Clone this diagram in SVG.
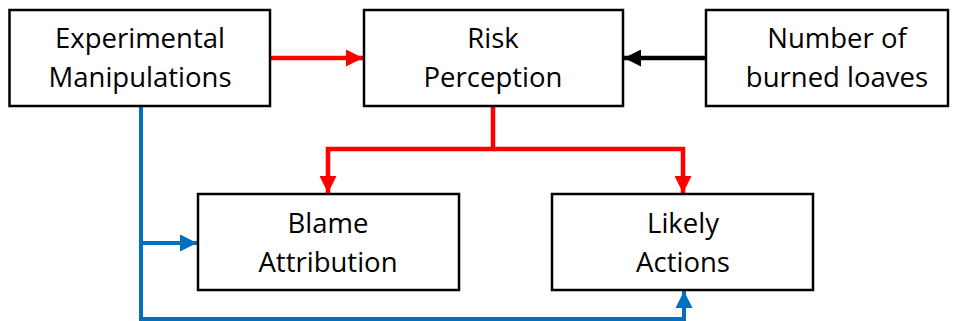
<svg xmlns="http://www.w3.org/2000/svg" width="956" height="321" viewBox="0 0 956 321">
<style>
.box{fill:#fff;stroke:#000;stroke-width:2.5}
.lbl{font-family:"Open Sans","Noto Sans",sans-serif;font-size:27.5px;fill:#000;text-anchor:middle}
.red{fill:none;stroke:#ff0000;stroke-width:4.5}
.blue{fill:none;stroke:#0070c0;stroke-width:4}
.blk{fill:none;stroke:#000;stroke-width:4.5}
</style>
<defs>
<marker id="ar" markerUnits="userSpaceOnUse" markerWidth="17" markerHeight="17" refX="17" refY="8.5" orient="auto"><path d="M0,0 L17,8.5 L0,17 Z" fill="#ff0000"/></marker>
<marker id="ab" markerUnits="userSpaceOnUse" markerWidth="17" markerHeight="17" refX="17" refY="8.5" orient="auto"><path d="M0,0 L17,8.5 L0,17 Z" fill="#0070c0"/></marker>
<marker id="ak" markerUnits="userSpaceOnUse" markerWidth="17" markerHeight="17" refX="17" refY="8.5" orient="auto"><path d="M0,0 L17,8.5 L0,17 Z" fill="#000"/></marker>
</defs>
<rect width="956" height="321" fill="#fff"/>
<g id="connectors">
<line class="red" x1="270" y1="58" x2="363" y2="58" marker-end="url(#ar)"/>
<line class="blk" x1="706" y1="58" x2="624" y2="58" marker-end="url(#ak)"/>
<polyline class="red" points="493,106 493,149 328,149 328,193" marker-end="url(#ar)"/>
<polyline class="red" points="493,149 683,149 683,193" marker-end="url(#ar)"/>
<polyline class="blue" points="141,106 141,319 684,319 684,291" marker-end="url(#ab)"/>
<line class="blue" x1="141" y1="243" x2="197" y2="243" marker-end="url(#ab)"/>
</g>
<g id="experimental">
<rect class="box" x="9.5" y="10" width="260.5" height="96"/>
<text class="lbl" x="140" y="48">Experimental</text>
<text class="lbl" x="140" y="87">Manipulations</text>
</g>
<g id="risk">
<rect class="box" x="364" y="10" width="259" height="96"/>
<text class="lbl" x="493" y="48">Risk</text>
<text class="lbl" x="493" y="87">Perception</text>
</g>
<g id="loaves">
<rect class="box" x="706" y="10" width="242" height="96"/>
<text class="lbl" x="837" y="48">Number of</text>
<text class="lbl" x="837" y="87">burned loaves</text>
</g>
<g id="blame">
<rect class="box" x="198" y="194" width="261" height="96"/>
<text class="lbl" x="328" y="233">Blame</text>
<text class="lbl" x="328" y="272">Attribution</text>
</g>
<g id="likely">
<rect class="box" x="552" y="194" width="261" height="96"/>
<text class="lbl" x="683" y="233">Likely</text>
<text class="lbl" x="683" y="272">Actions</text>
</g>
</svg>
